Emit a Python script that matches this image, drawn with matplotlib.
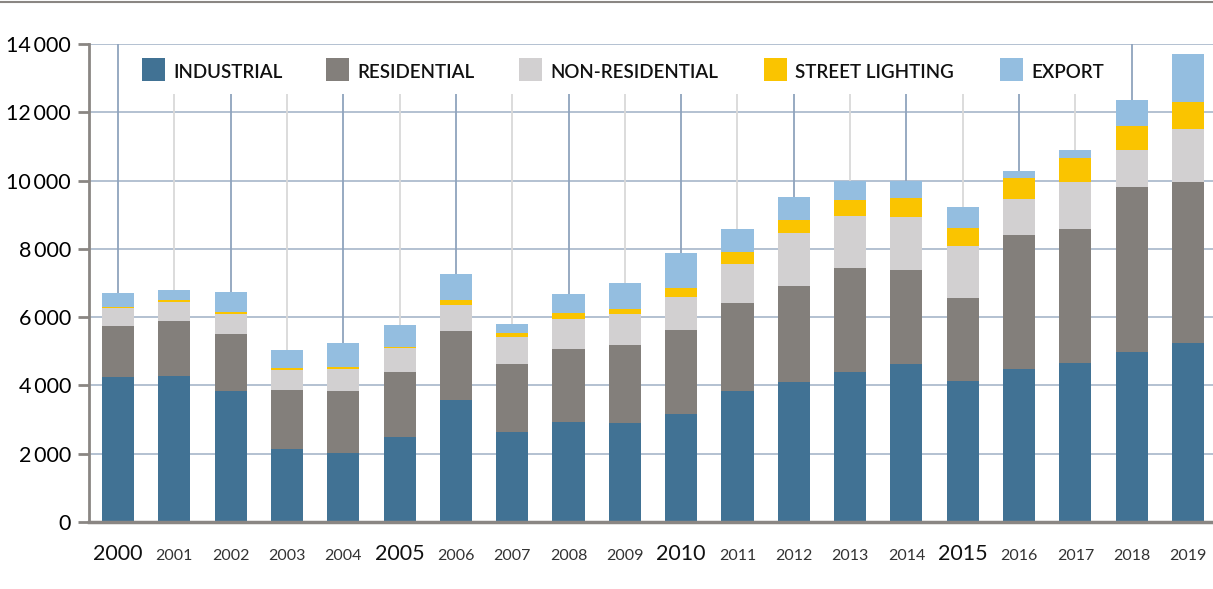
import matplotlib.pyplot as plt
from matplotlib.patches import Rectangle
from matplotlib.lines import Line2D
import numpy as np

# dane
anos = list(range(2000, 2020))
industrial = [4260, 4290, 3850, 2150, 2030, 2500, 3560, 2650, 2940, 2910,
              3150, 3850, 4110, 4380, 4640, 4140, 4490, 4670, 4990, 5230]
residential = [1470, 1600, 1670, 1730, 1820, 1900, 2020, 1990, 2140, 2280,
               2460, 2550, 2810, 3070, 2750, 2430, 3920, 3920, 4830, 4740]
non_residential = [550, 560, 580, 580, 640, 700, 790, 790, 880, 910,
                   970, 1170, 1550, 1520, 1550, 1510, 1050, 1380, 1080, 1550]
street_lighting = [20, 50, 40, 40, 60, 40, 120, 120, 150, 150,
                   260, 330, 380, 450, 540, 540, 610, 680, 700, 770]
export = [400, 300, 610, 550, 680, 630, 760, 260, 560, 760,
          1050, 690, 670, 560, 520, 620, 210, 260, 760, 1430]

series = [industrial, residential, non_residential, street_lighting, export]
nomes = ["INDUSTRIAL", "RESIDENTIAL", "NON-RESIDENTIAL", "STREET LIGHTING", "EXPORT"]
cores = ["#417294", "#837f7b", "#d2d0d1", "#fac400", "#94bee0"]

yticks = [0, 2000, 4000, 6000, 8000, 10000, 12000, 14000]

plt.rcParams['font.family'] = ['Lato', 'DejaVu Sans']

fig = plt.figure(figsize=(12.13, 5.89), dpi=100)
ax = fig.add_axes([89 / 1213, 67 / 589, 1 - 89 / 1213, 478 / 589])

x = np.arange(len(anos))

# linhas de grade horizontais
for v in yticks[1:]:
    ax.axhline(v, color="#a7b6c9", linewidth=1.2, zorder=1)

# linhas verticais (pares azuladas, impares cinza claro)
for i, ano in enumerate(anos):
    if ano == 2019:
        continue
    topo = 14000 if ano in (2000, 2018) else 12550
    cor = "#8fa4bd" if ano % 2 == 0 else "#d9d9d9"
    ax.vlines(x[i], 0, topo, color=cor, linewidth=1.3, zorder=1)

# barras empilhadas
base = np.zeros(len(anos))
for valores, cor in zip(series, cores):
    ax.bar(x, valores, bottom=base, width=0.57, color=cor, zorder=2, linewidth=0)
    base = base + np.array(valores)

ax.set_xlim(-0.515, 19.444)
ax.set_ylim(0, 14000)

ax.set_yticks(yticks)
ax.set_yticklabels([f"{v:,}".replace(",", "\u2009") if v else "0" for v in yticks],
                   fontsize=15.5)
ax.tick_params(axis='y', length=8, width=2, color="#8a8683", pad=5)

ax.set_xticks(x)
ax.set_xticklabels([str(a) for a in anos])
ax.tick_params(axis='x', length=0, pad=27)
for lab, ano in zip(ax.get_xticklabels(), anos):
    lab.set_verticalalignment('baseline')
    if ano % 5 == 0:
        lab.set_fontsize(15.5)
        lab.set_color("#111111")
    else:
        lab.set_fontsize(11.5)
        lab.set_color("#333333")

for s in ["top", "right"]:
    ax.spines[s].set_visible(False)
ax.spines["left"].set_color("#8a8683")
ax.spines["left"].set_linewidth(2)
ax.spines["bottom"].set_color("#8a8683")
ax.spines["bottom"].set_linewidth(2.5)
ax.spines["bottom"].set_zorder(3)

# legenda manual
pos_legenda = [142, 326, 519, 764, 1000]
for px, nome, cor in zip(pos_legenda, nomes, cores):
    fig.patches.append(Rectangle((px / 1213, (589 - 81) / 589), 23 / 1213, 23 / 589,
                                 transform=fig.transFigure, color=cor, linewidth=0))
    fig.text((px + 31) / 1213, (589 - 72) / 589, nome, fontsize=13.5,
             fontweight='semibold', color="#111111", va='center', ha='left')

# linha superior
fig.add_artist(Line2D([0, 1], [1 - 2 / 589, 1 - 2 / 589], transform=fig.transFigure,
                      color="#8a8683", linewidth=1.5))

plt.savefig("out.png", dpi=100)
